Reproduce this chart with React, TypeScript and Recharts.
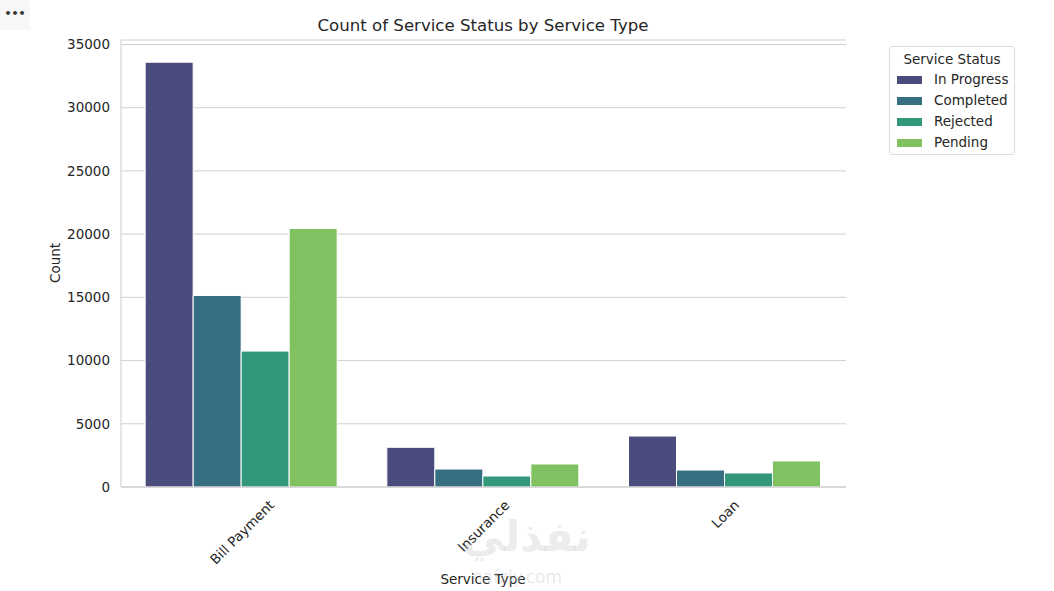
import React from "react";
import { BarChart, Bar, XAxis, YAxis, CartesianGrid } from "recharts";

const categories = ["Bill Payment", "Insurance", "Loan"];
const statuses = ["In Progress", "Completed", "Rejected", "Pending"];
const inProgress = [33600, 3140, 4030];
const completed = [15150, 1420, 1340];
const rejected = [10750, 870, 1110];
const pending = [20450, 1820, 2060];
const yTicks = [0, 5000, 10000, 15000, 20000, 25000, 30000, 35000];
const colors = ["#4a4c7e", "#366f81", "#33977c", "#80c161"];

const seriesValues = [inProgress, completed, rejected, pending];
const data = categories.map((c, i) => {
  const row: any = { category: c };
  statuses.forEach((s, j) => {
    row[s] = seriesValues[j][i];
  });
  return row;
});

const FONT = "DejaVu Sans, sans-serif";
const TEXT = "#262626";
const FS = 13.5;

let ctx: CanvasRenderingContext2D | null = null;
function measure(text: string, size: number) {
  if (!ctx) {
    const c = document.createElement("canvas");
    ctx = c.getContext("2d");
  }
  if (!ctx) return text.length * size * 0.55;
  ctx.font = `${size}px DejaVu Sans`;
  return ctx.measureText(text).width;
}

const RotTick = (props: any) => {
  const { x, payload } = props;
  const L = measure(payload.value, FS);
  const h = FS * 1.15;
  const side = (L + h) * Math.SQRT1_2;
  const cy = 497 + side / 2;
  return (
    <text
      x={x}
      y={cy}
      textAnchor="middle"
      dominantBaseline="central"
      transform={`rotate(-45 ${x} ${cy})`}
      fontSize={FS}
      fontFamily={FONT}
      fill={TEXT}
    >
      {payload.value}
    </text>
  );
};

const LegendBox = () => (
  <div
    style={{
      position: "absolute",
      left: 889,
      top: 46,
      border: "1px solid #dcdcdc",
      borderRadius: 3,
      width: 124,
      height: 107,
      background: "#fff",
      fontFamily: FONT,
      fontSize: FS,
      color: TEXT,
    }}
  >
    <div style={{ textAlign: "center", marginTop: 3, lineHeight: "18px", marginBottom: 1 }}>Service Status</div>
    {statuses.map((s, i) => (
      <div key={s} style={{ display: "flex", alignItems: "center", height: 21 }}>
        <div style={{ width: 25, height: 8, background: colors[i], marginLeft: 7, marginRight: 12 }} />
        <span style={{ lineHeight: "17px", whiteSpace: "nowrap" }}>{s}</span>
      </div>
    ))}
  </div>
);

export default function App() {
  return (
    <div style={{ position: "absolute", left: 0, top: 0, width: 1054, height: 591, background: "#fff" }}>
      <div
        style={{
          position: "absolute",
          left: 0,
          top: 0,
          width: 30,
          height: 30,
          background: "#f7f7f7",
          fontFamily: FONT,
          fontSize: 11,
          color: "#333",
          textAlign: "center",
          lineHeight: "28px",
          fontWeight: "bold",
        }}
      >
        •••
      </div>
      <BarChart
        width={1054}
        height={591}
        data={data}
        margin={{ top: 40, right: 208, bottom: 0, left: 0 }}
        barCategoryGap="10%"
        barGap={0}
      >
        <text x={483} y={25} textAnchor="middle" dominantBaseline="central" fontSize={16.6} fontFamily={FONT} fill={TEXT}>
          Count of Service Status by Service Type
        </text>
        <text x={55} y={263} textAnchor="middle" dominantBaseline="central" fontSize={FS} fontFamily={FONT} fill={TEXT} transform="rotate(-90 55 263)">
          Count
        </text>
        <text x={483} y={579} textAnchor="middle" dominantBaseline="central" fontSize={FS} fontFamily={FONT} fill={TEXT}>
          Service Type
        </text>
        <CartesianGrid vertical={false} stroke="#d0d0d0" strokeWidth={1} />
        <XAxis
          dataKey="category"
          height={104}
          tick={<RotTick />}
          tickLine={false}
          axisLine={{ stroke: "#cccccc" }}
          interval={0}
        />
        <XAxis xAxisId="top" orientation="top" dataKey="category" height={0} tick={false} tickLine={false} axisLine={{ stroke: "#cccccc" }} />
        <YAxis
          width={121}
          domain={[0, 35355]}
          ticks={yTicks}
          tickLine={false}
          axisLine={{ stroke: "#cccccc" }}
          tick={{ fontSize: FS, fontFamily: FONT, fill: TEXT }}
          tickMargin={5}
          allowDataOverflow
        />
        <YAxis yAxisId="right" orientation="right" width={0} tick={false} tickLine={false} axisLine={{ stroke: "#cccccc" }} domain={[0, 35355]} />
        {statuses.map((s, i) => (
          <Bar key={s} dataKey={s} fill={colors[i]} stroke="#ffffff" strokeWidth={1} isAnimationActive={false} />
        ))}
      </BarChart>
      <LegendBox />
      <div
        style={{
          position: "absolute",
          left: 462,
          top: 512,
          fontFamily: "DejaVu Sans, sans-serif",
          fontSize: 42,
          fontWeight: "bold",
          color: "rgba(200,200,200,0.35)",
          pointerEvents: "none",
          direction: "rtl",
        }}
      >
        نفذلي
      </div>
      <div
        style={{
          position: "absolute",
          left: 472,
          top: 567,
          fontFamily: "DejaVu Sans, sans-serif",
          fontSize: 17,
          color: "rgba(200,200,200,0.4)",
          pointerEvents: "none",
        }}
      >
        nafzly.com
      </div>
    </div>
  );
}
